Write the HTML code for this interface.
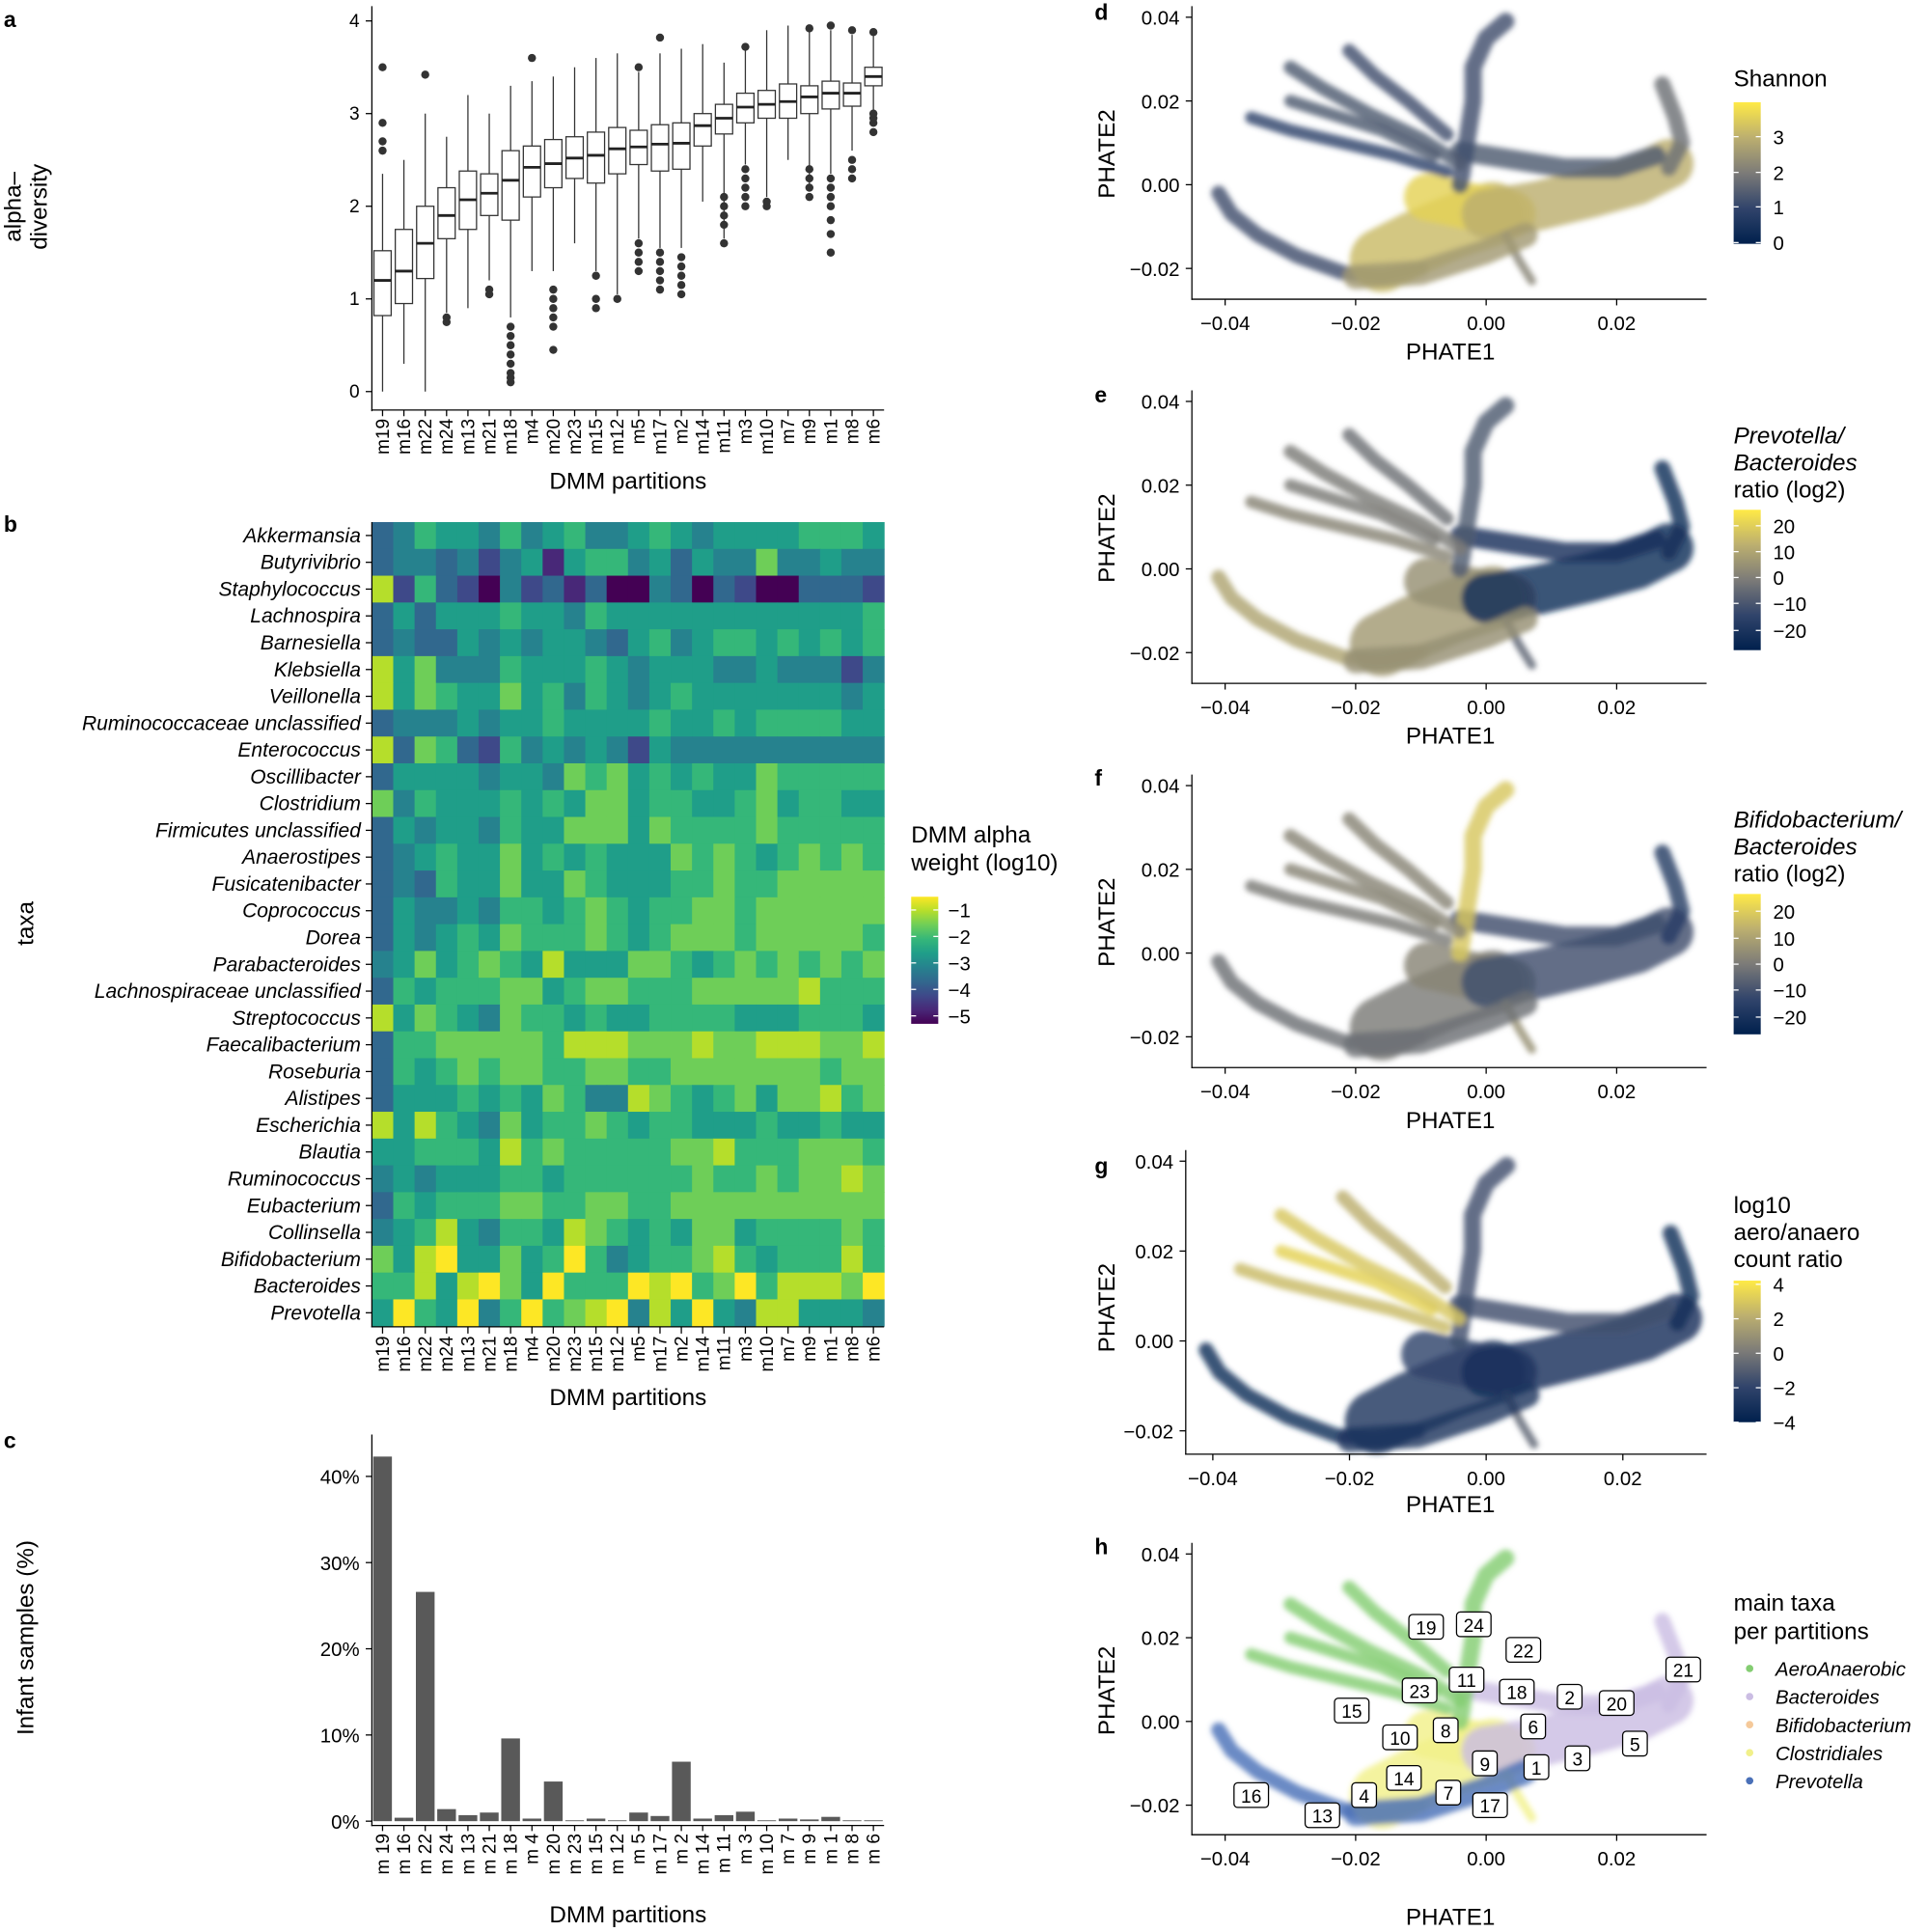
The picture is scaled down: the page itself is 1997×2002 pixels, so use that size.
<!DOCTYPE html>
<html><head><meta charset="utf-8">
<style>
html,body{margin:0;padding:0;background:#fff;}
svg{display:block;font-family:"Liberation Sans",Arial,sans-serif;}
</style></head>
<body>
<svg id="fig" width="1997" height="2002" viewBox="0 0 1565 1569" xmlns="http://www.w3.org/2000/svg"></svg>
<script>
// ---------- DATA ----------
const partitions = ["m19","m16","m22","m24","m13","m21","m18","m4","m20","m23","m15","m12","m5","m17","m2","m14","m11","m3","m10","m7","m9","m1","m8","m6"];
const boxMedian = [1.2,1.3,1.6,1.9,2.07,2.14,2.28,2.42,2.46,2.52,2.55,2.62,2.64,2.67,2.68,2.87,2.95,3.07,3.1,3.13,3.18,3.22,3.22,3.4];
const boxQ1 = [0.82,0.95,1.22,1.65,1.75,1.9,1.85,2.1,2.2,2.3,2.25,2.35,2.45,2.38,2.4,2.65,2.78,2.9,2.95,2.95,3.0,3.05,3.08,3.3];
const boxQ3 = [1.52,1.75,2.0,2.2,2.38,2.35,2.6,2.65,2.72,2.75,2.8,2.85,2.82,2.88,2.9,3.0,3.1,3.22,3.25,3.32,3.3,3.35,3.33,3.5];
const whiskLo = [0,0.3,0,0.85,0.9,1.2,0.8,1.3,1.3,1.6,1.3,1.05,1.65,1.55,1.55,2.05,1.65,2.45,2.1,2.5,2.2,2.35,2.6,2.9];
const whiskHi = [2.35,2.5,3.0,2.75,3.2,3.0,3.3,3.35,3.4,3.5,3.6,3.65,3.45,3.65,3.7,3.75,3.55,3.7,3.9,3.95,3.9,3.9,3.85,3.85];
const outliers = [[2.6,2.7,2.9,3.5],[],[3.42],[0.75,0.8],[],[1.05,1.1],[0.1,0.15,0.2,0.3,0.4,0.5,0.6,0.7],[3.6],[0.45,0.7,0.8,0.9,1.0,1.1],[],[0.9,1.0,1.25],[1.0],[3.5,1.3,1.4,1.5,1.6],[3.82,1.1,1.2,1.3,1.4,1.5],[1.05,1.15,1.25,1.35,1.45],[],[1.6,1.8,1.9,2.0,2.1],[3.72,2.0,2.1,2.2,2.3,2.4],[2.0,2.05],[],[3.92,2.1,2.2,2.3,2.4],[3.95,1.5,1.7,1.85,2.0,2.1,2.2,2.3],[3.9,2.3,2.4,2.5],[3.88,2.8,2.9,2.95,3.0]];
const alphaTicks = [0,1,2,3,4];

const taxa = ["Akkermansia","Butyrivibrio","Staphylococcus","Lachnospira","Barnesiella","Klebsiella","Veillonella","Ruminococcaceae unclassified","Enterococcus","Oscillibacter","Clostridium","Firmicutes unclassified","Anaerostipes","Fusicatenibacter","Coprococcus","Dorea","Parabacteroides","Lachnospiraceae unclassified","Streptococcus","Faecalibacterium","Roseburia","Alistipes","Escherichia","Blautia","Ruminococcus","Eubacterium","Collinsella","Bifidobacterium","Bacteroides","Prevotella"];
// heat codes: value = -0.5 - 0.5*code (log10)
const heatCodes = [
[6,5,3,4,4,5,3,5,4,3,5,5,4,3,4,5,4,4,4,4,3,3,3,4],
[6,5,5,6,5,7,5,4,8,4,3,3,5,4,6,4,5,5,2,5,5,4,5,5],
[1,7,3,6,7,9,5,7,6,8,6,9,9,5,6,9,6,7,9,9,6,6,6,7],
[6,4,6,4,4,4,3,4,4,5,3,4,4,4,4,4,4,4,4,4,4,4,4,3],
[6,5,6,6,4,5,4,5,4,4,5,6,4,3,5,4,3,3,4,3,4,3,4,3],
[1,4,2,5,5,5,3,4,4,4,3,4,5,4,4,4,5,5,4,5,5,5,7,5],
[1,4,2,3,4,4,2,4,3,5,3,4,5,4,3,4,4,4,4,4,4,4,5,4],
[6,5,5,5,4,5,4,4,3,4,4,4,4,3,4,4,3,4,3,3,3,3,4,4],
[1,6,2,3,6,7,3,5,4,5,4,5,7,4,5,5,5,5,5,5,5,5,5,5],
[6,4,4,4,4,5,4,4,5,2,3,2,4,3,4,3,4,4,2,3,3,3,3,3],
[2,5,3,4,4,4,3,4,3,4,2,2,4,3,3,4,4,3,2,4,3,3,4,4],
[6,4,5,4,4,5,3,4,4,2,2,2,4,2,3,3,3,3,2,3,3,3,3,3],
[6,5,4,3,4,4,2,4,3,4,3,4,4,4,2,3,2,3,4,3,2,3,2,3],
[6,5,6,3,4,4,2,4,4,2,3,4,4,4,3,3,2,3,3,2,2,2,2,2],
[6,4,5,5,4,5,3,3,4,3,2,3,4,3,3,2,2,3,2,2,2,2,2,2],
[6,4,5,4,3,4,2,3,3,3,2,3,4,3,2,2,2,3,2,2,2,2,2,3],
[5,4,2,4,3,2,3,4,1,4,4,4,2,2,3,4,3,2,3,2,3,2,3,2],
[6,3,4,3,3,3,2,2,4,3,2,2,3,3,3,2,2,2,2,2,1,3,3,3],
[1,4,2,3,4,5,2,3,3,4,3,4,4,3,3,3,3,4,4,4,3,3,3,4],
[6,3,3,2,2,2,2,2,3,1,1,1,2,2,2,1,2,2,1,1,1,2,2,1],
[6,3,4,3,2,3,2,2,3,3,2,2,3,3,2,2,2,2,2,2,2,3,2,2],
[6,4,4,4,3,4,3,4,2,3,5,5,1,2,3,4,3,2,4,2,2,1,3,2],
[1,4,1,3,4,5,2,4,3,3,2,3,4,3,3,4,4,4,3,4,4,3,4,4],
[4,4,3,3,3,4,1,3,2,3,3,3,3,3,2,2,1,3,3,3,2,2,2,3],
[5,4,5,4,4,4,3,3,4,3,3,3,3,3,3,2,3,3,2,3,2,2,1,2],
[6,3,4,3,3,3,2,2,3,3,2,2,3,3,2,2,2,2,2,2,2,2,2,2],
[5,4,3,1,4,5,3,3,4,1,2,3,4,3,4,2,2,4,3,3,3,3,2,3],
[2,4,1,0,4,4,2,4,3,0,3,5,4,3,3,2,1,3,4,3,3,3,1,3],
[3,3,1,4,1,0,2,4,0,3,3,3,0,1,0,3,2,0,3,1,1,1,2,0],
[4,0,3,4,0,5,3,0,3,2,1,0,5,1,4,0,4,5,1,1,4,4,4,5]];
const heatTicks = [-1,-2,-3,-4,-5];

const infantPct = [42.3,0.4,26.6,1.4,0.7,1.0,9.6,0.3,4.6,0.1,0.3,0.1,1.0,0.6,6.9,0.3,0.7,1.1,0.1,0.3,0.2,0.5,0.1,0.1];
const pctTicks = [0,10,20,30,40];

// PHATE embedding arms (data coords)
const armNames = ["lower-arc","body-left","body-center","body-right","right-arm","upper-arc","top-arm","finger-1","finger-2","finger-3","finger-4","spur","body-bottom"];
const armPaths = [
 [[-0.041,-0.002],[-0.039,-0.007],[-0.035,-0.012],[-0.029,-0.017],[-0.022,-0.021],[-0.016,-0.022],[-0.01,-0.02]],
 [[-0.016,-0.018],[-0.011,-0.014],[-0.005,-0.01],[0.001,-0.007]],
 [[-0.009,-0.003],[-0.003,-0.005],[0.004,-0.007]],
 [[0.0,-0.007],[0.008,-0.005],[0.016,-0.002],[0.023,0.001],[0.028,0.005]],
 [[0.028,0.004],[0.03,0.01],[0.029,0.016],[0.027,0.024]],
 [[-0.004,0.008],[0.004,0.006],[0.012,0.004],[0.02,0.004],[0.026,0.007]],
 [[-0.004,0.0],[-0.003,0.01],[-0.002,0.02],[-0.002,0.028],[0.0,0.035],[0.003,0.039]],
 [[-0.036,0.016],[-0.03,0.013],[-0.022,0.01],[-0.014,0.007],[-0.006,0.003]],
 [[-0.03,0.02],[-0.024,0.017],[-0.016,0.013],[-0.008,0.007]],
 [[-0.03,0.028],[-0.025,0.023],[-0.018,0.017],[-0.01,0.011],[-0.004,0.005]],
 [[-0.021,0.032],[-0.017,0.026],[-0.012,0.02],[-0.006,0.012]],
 [[0.003,-0.012],[0.005,-0.018],[0.007,-0.023]],
 [[-0.02,-0.022],[-0.01,-0.021],[0.0,-0.016],[0.006,-0.012]]];
const armWidth = [12,52,38,40,13,16,14,10,10,11,11,7,20];
const shannonLevel = [0.3,0.8,0.9,0.75,0.45,0.35,0.3,0.25,0.35,0.35,0.3,0.55,0.65];
const prevotellaLevel = [0.7,0.65,0.6,0.1,0.1,0.12,0.35,0.55,0.5,0.5,0.45,0.4,0.6];
const bifidoLevel = [0.45,0.5,0.55,0.3,0.2,0.3,0.85,0.5,0.55,0.55,0.55,0.6,0.45];
const aeroLevel = [0.1,0.15,0.25,0.12,0.1,0.3,0.3,0.8,0.9,0.85,0.75,0.4,0.15];
const mainTaxaClass = [4,3,3,1,1,1,0,0,0,0,0,3,4];
const mainTaxaNames = ["AeroAnaerobic","Bacteroides","Bifidobacterium","Clostridiales","Prevotella"];
const mainTaxaColors = ["#84cd72","#cbbde3","#f5c99a","#f1f08a","#4a70b8"];
const hLabels = ["19","24","22","11","23","18","2","20","21","15","6","8","10","5","3","9","1","14","7","4","17","16","13"];
const hLabelX = [-0.0092,-0.0019,0.0057,-0.003,-0.0102,0.0047,0.0128,0.02,0.0302,-0.0206,0.0072,-0.0062,-0.0132,0.0228,0.014,-0.0002,0.0077,-0.0126,-0.0058,-0.0187,0.0006,-0.036,-0.0251];
const hLabelY = [0.0226,0.0232,0.0171,0.01,0.0074,0.0071,0.0059,0.0044,0.0124,0.0026,-0.0012,-0.0021,-0.0038,-0.0053,-0.0088,-0.01,-0.0109,-0.0135,-0.017,-0.0176,-0.02,-0.0176,-0.0224];
const phateXTicks = [-0.04,-0.02,0.00,0.02];
const phateYTicks = [-0.02,0.00,0.02,0.04];

// ---------- HELPERS ----------
const NS="http://www.w3.org/2000/svg";
const svg=document.getElementById('fig');
function mk(tag,attrs,parent){const e=document.createElementNS(NS,tag);for(const k in attrs)e.setAttribute(k,attrs[k]);(parent||svg).appendChild(e);return e;}
function grp(name){const g=mk('g',{});


return g;}
function txt(parent,x,y,s,name,extra){const t=mk('text',Object.assign({x:x,y:y,'font-size':15,fill:'#000'},extra||{}),parent);t.textContent=s;


return t;}
function line(parent,x1,y1,x2,y2,name,w,c){const l=mk('line',{x1:x1,y1:y1,x2:x2,y2:y2,stroke:c||'#000','stroke-width':w||1},parent);


return l;}
function hex2rgb(h){return [parseInt(h.substr(1,2),16),parseInt(h.substr(3,2),16),parseInt(h.substr(5,2),16)];}
function interp(stops,t){t=Math.max(0,Math.min(1,t));const n=stops.length-1;const i=Math.min(n-1,Math.floor(t*n));const f=t*n-i;const a=hex2rgb(stops[i]),b=hex2rgb(stops[i+1]);return 'rgb('+a.map((v,k)=>Math.round(v+(b[k]-v)*f)).join(',')+')';}
const viridis=["#440154","#482878","#3e4989","#31688e","#26828e","#1f9e89","#35b779","#6ece58","#b5de2b","#fde725"];
const cividis=["#00204D","#31446B","#7C7B78","#BCAF6F","#FFEA46"];

const gdefs=mk('defs',{});
const flt=mk('filter',{id:'soft',x:'-20%',y:'-20%',width:'140%',height:'140%'},gdefs);
mk('feGaussianBlur',{stdDeviation:2.2},flt);

// panel letters
[["a",3,22],["b",3,432],["c",3,1176],["d",889,16],["e",889,327],["f",889,638],["g",889,953],["h",889,1262]].forEach(p=>{
 txt(svg,p[1],p[2],p[0],'panel-label-'+p[0],{'font-weight':'bold','font-size':18});
});

const catX0=302,catW=416/24;
function cx(i){return catX0+catW*(i+0.5);}
function catLabels(g,yTop,sp,name){partitions.forEach((p,i)=>{const x=cx(i)+5;txt(g,x,yTop,sp?p.replace('m','m '):p,name+'-'+p,{'text-anchor':'end',transform:'rotate(-90 '+x+' '+yTop+')'});});}

// ---------- PANEL A ----------
(function(){
const g=grp('alpha-diversity-boxplot');
const y=v=>318-75.25*v;
line(g,302,5,302,334,'y-axis-line');
line(g,301.5,333,718,333,'x-axis-line');
alphaTicks.forEach(v=>{line(g,297,y(v),302,y(v),'y-tick');txt(g,292,y(v)+5,String(v),'y-tick-label',{'text-anchor':'end'});});
partitions.forEach((p,i)=>{
 const x=cx(i),hw=7;
 line(g,x,333,x,338,'x-tick');
 line(g,x,y(whiskLo[i]),x,y(boxQ1[i]),'whisker-low-'+p,1,'#333');
 line(g,x,y(whiskHi[i]),x,y(boxQ3[i]),'whisker-high-'+p,1,'#333');
 const r=mk('rect',{x:x-hw,y:y(boxQ3[i]),width:2*hw,height:y(boxQ1[i])-y(boxQ3[i]),fill:'#fff',stroke:'#333','stroke-width':1},g);
 
 
 line(g,x-hw,y(boxMedian[i]),x+hw,y(boxMedian[i]),'median-'+p,2.2,'#222');
 outliers[i].forEach(v=>{const c=mk('circle',{cx:x,cy:y(v),r:3.3,fill:'#333'},g);
  
  });
});
catLabels(g,340,false,'x-tick-label');
txt(g,510,397,'DMM partitions','x-axis-title',{'font-size':19,'text-anchor':'middle'});
txt(g,0,0,'alpha–','y-axis-title',{'font-size':19,'text-anchor':'middle',transform:'translate(17 168) rotate(-90)'});
txt(g,0,0,'diversity','y-axis-title-2',{'font-size':19,'text-anchor':'middle',transform:'translate(38 168) rotate(-90)'});
})();

// ---------- PANEL B ----------
(function(){
const g=grp('dmm-heatmap');
const top=424,rh=653/30;
const t=v=>(v+5)/4.5;
heatCodes.forEach((row,r)=>{row.forEach((c,i)=>{
 const v=-0.5-0.5*c;
 const rc=mk('rect',{x:catX0+catW*i,y:top+rh*r,width:catW+0.4,height:rh+0.4,fill:interp(viridis,t(v))},g);
 
 
});});
line(g,302,424,302,1078,'y-axis-line');
line(g,301.5,1077.5,718,1077.5,'x-axis-line');
taxa.forEach((n,r)=>{const yy=top+rh*(r+0.5);line(g,297,yy,302,yy,'y-tick');
 const tt=txt(g,293,yy+5.5,n,'taxon-label-'+n.toLowerCase().replace(/ /g,'-'),{'text-anchor':'end','font-size':16.5,'font-style':'italic'});
});
partitions.forEach((p,i)=>line(g,cx(i),1078,cx(i),1083,'x-tick'));
catLabels(g,1085,false,'x-tick-label');
txt(g,510,1141,'DMM partitions','x-axis-title',{'font-size':19,'text-anchor':'middle'});
txt(g,0,0,'taxa','y-axis-title',{'font-size':19,'text-anchor':'middle',transform:'translate(27 750) rotate(-90)'});
const lg=grp('heatmap-legend');
txt(lg,740,684,'DMM alpha','legend-title',{'font-size':19});
txt(lg,740,707,'weight (log10)','legend-title-2',{'font-size':19});
const yv=v=>739+(-1-v)*21.5;
const def=mk('defs',{},lg);const lgd=mk('linearGradient',{id:'vir',x1:0,y1:1,x2:0,y2:0},def);
viridis.forEach((c,k)=>mk('stop',{offset:k/9,'stop-color':c},lgd));
const bar=mk('rect',{x:740,y:yv(-0.5),width:22,height:yv(-5.3)-yv(-0.5),fill:'url(#vir)'},lg);


heatTicks.forEach(v=>{line(lg,740,yv(v),744,yv(v),'legend-tick',1,'#fff');line(lg,758,yv(v),762,yv(v),'legend-tick',1,'#fff');
 txt(lg,770,yv(v)+6,'−'+Math.abs(v),'legend-tick-label',{'font-size':16});});
})();

// ---------- PANEL C ----------
(function(){
const g=grp('infant-samples-bar-chart');
const y=v=>1479-7*v;
pctTicks.forEach(v=>{line(g,297,y(v),302,y(v),'y-tick');txt(g,292,y(v)+6,v+'%','y-tick-label',{'text-anchor':'end','font-size':16});});
partitions.forEach((p,i)=>{
 const b=mk('rect',{x:cx(i)-7.6,y:y(infantPct[i]),width:15.2,height:Math.max(0.6,y(0)-y(infantPct[i])),fill:'#595959'},g);
 
 
 line(g,cx(i),1482,cx(i),1487,'x-tick');
});
line(g,302,1165,302,1483,'y-axis-line');
line(g,301.5,1482.5,718,1482.5,'x-axis-line');
catLabels(g,1489,true,'x-tick-label');
txt(g,510,1561,'DMM partitions','x-axis-title',{'font-size':19,'text-anchor':'middle'});
txt(g,0,0,'Infant samples (%)','y-axis-title',{'font-size':19,'text-anchor':'middle',transform:'translate(27 1330) rotate(-90)'});
})();

// ---------- PHATE PANELS ----------
function phatePanel(cfg){
 const g=grp(cfg.name);
 const X=v=>cfg.x0+cfg.sx*v, Y=v=>cfg.y0-cfg.sy*v;
 const cloud=mk('g',{filter:'url(#soft)'},g);
 
 
 armPaths.forEach((pts,k)=>{
  const d=pts.map((p,j)=>(j?'L':'M')+X(p[0]).toFixed(1)+' '+Y(p[1]).toFixed(1)).join(' ');
  const col=cfg.colorOf(k);
  const pth=mk('path',{d:d,fill:'none',stroke:col,'stroke-width':armWidth[k],'stroke-linecap':'round','stroke-linejoin':'round','stroke-opacity':0.82},cloud);
  
  
 });
 line(g,cfg.ax,cfg.top,cfg.ax,cfg.bottom+0.5,'y-axis-line');
 line(g,cfg.ax-0.5,cfg.bottom,1386,cfg.bottom,'x-axis-line');
 phateYTicks.forEach(v=>{line(g,cfg.ax-5,Y(v),cfg.ax,Y(v),'y-tick');txt(g,cfg.ax-10,Y(v)+6,(v<0?'−':'')+Math.abs(v).toFixed(2),'y-tick-label',{'text-anchor':'end','font-size':16});});
 phateXTicks.forEach(v=>{line(g,X(v),cfg.bottom,X(v),cfg.bottom+5,'x-tick');txt(g,X(v),cfg.bottom+25,(v<0?'−':'')+Math.abs(v).toFixed(2),'x-tick-label',{'text-anchor':'middle','font-size':16});});
 txt(g,1178,cfg.titleY,'PHATE1','x-axis-title',{'font-size':19,'text-anchor':'middle'});
 txt(g,0,0,'PHATE2','y-axis-title',{'font-size':19,'text-anchor':'middle',transform:'translate(905 '+cfg.y2+') rotate(-90)'});
 return {g:g,X:X,Y:Y};
}
function cbar(name,titles,italic,top,bot,ticks,tickY){
 const lg=grp(name);
 titles.forEach((s,k)=>txt(lg,1408,titles.y0+22*k,s,'legend-title',{'font-size':19,'font-style':italic[k]?'italic':'normal'}));
 const id='civ'+name;const def=mk('defs',{},lg);const gr=mk('linearGradient',{id:id,x1:0,y1:1,x2:0,y2:0},def);
 cividis.forEach((c,k)=>mk('stop',{offset:k/4,'stop-color':c},gr));
 const r=mk('rect',{x:1408,y:top,width:22,height:bot-top,fill:'url(#'+id+')'},lg);
 
 
 ticks.forEach((s,k)=>{line(lg,1408,tickY[k],1412,tickY[k],'legend-tick',1,'#fff');line(lg,1426,tickY[k],1430,tickY[k],'legend-tick',1,'#fff');
  txt(lg,1440,tickY[k]+6,s,'legend-tick-label',{'font-size':16});});
}
function T(arr,y0){arr.y0=y0;return arr;}

phatePanel({name:'phate-shannon-scatter',x0:1207,sx:5300,y0:150,sy:3400,ax:968,top:5,bottom:243,titleY:292,y2:125,colorOf:k=>interp(cividis,shannonLevel[k])});
cbar('shannon-legend',T(['Shannon'],70),[0],83,198,['3','2','1','0'],[111,140,168,197]);

phatePanel({name:'phate-prevotella-scatter',x0:1207,sx:5300,y0:462,sy:3400,ax:968,top:317,bottom:555,titleY:604,y2:437,colorOf:k=>interp(cividis,prevotellaLevel[k])});
cbar('prevotella-legend',T(['Prevotella/','Bacteroides','ratio (log2)'],360),[1,1,0],414,528,['20','10','0','−10','−20'],[427,448,469,490,512]);

phatePanel({name:'phate-bifidobacterium-scatter',x0:1207,sx:5300,y0:774,sy:3400,ax:968,top:629,bottom:867,titleY:916,y2:749,colorOf:k=>interp(cividis,bifidoLevel[k])});
cbar('bifidobacterium-legend',T(['Bifidobacterium/','Bacteroides','ratio (log2)'],672),[1,1,0],726,840,['20','10','0','−10','−20'],[740,762,783,804,826]);

phatePanel({name:'phate-aero-anaero-scatter',x0:1207,sx:5550,y0:1089,sy:3650,ax:963,top:934,bottom:1181,titleY:1228,y2:1062,colorOf:k=>interp(cividis,aeroLevel[k])});
cbar('aero-anaero-legend',T(['log10','aero/anaero','count ratio'],985),[0,0,0],1040,1155,['4','2','0','−2','−4'],[1043,1071,1099,1127,1155]);

(function(){
const p=phatePanel({name:'phate-main-taxa-scatter',x0:1207,sx:5300,y0:1398,sy:3400,ax:968,top:1253,bottom:1490,titleY:1563,y2:1373,colorOf:k=>mainTaxaColors[mainTaxaClass[k]]});
hLabels.forEach((s,k)=>{
 const x=p.X(hLabelX[k]),y=p.Y(hLabelY[k]);const w=s.length>1?28:20;
 const r=mk('rect',{x:x-w/2,y:y-10,width:w,height:20,rx:3,fill:'#fff',stroke:'#000','stroke-width':1},p.g);
 
 
 txt(p.g,x,y+6,s,'partition-label-'+s,{'text-anchor':'middle','font-size':15});
});
const lg=grp('main-taxa-legend');
txt(lg,1408,1308,'main taxa','legend-title',{'font-size':19});
txt(lg,1408,1331,'per partitions','legend-title-2',{'font-size':19});
mainTaxaNames.forEach((n,k)=>{const yy=1355+22.8*k;
 const c=mk('circle',{cx:1421,cy:yy,r:3,fill:mainTaxaColors[k]},lg);
 
 
 txt(lg,1442,yy+6,n,'legend-entry-'+n.toLowerCase(),{'font-size':16,'font-style':'italic'});
});
})();
</script>
</body></html>
